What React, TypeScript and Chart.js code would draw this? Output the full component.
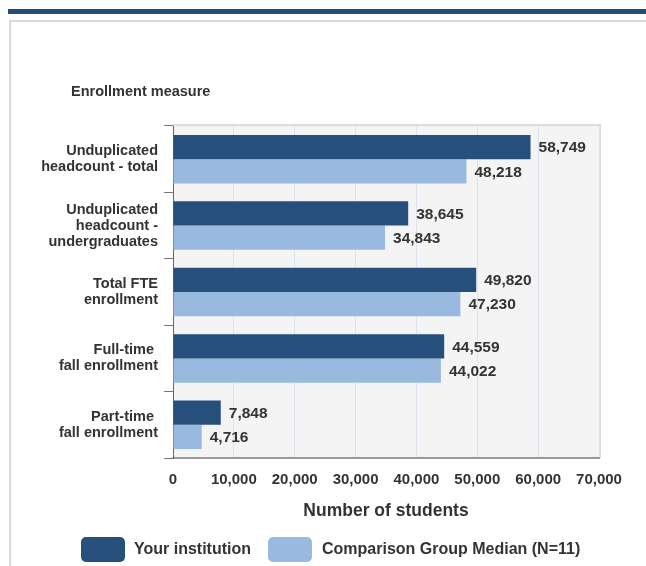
import React, { useEffect, useRef } from 'react';
import { Chart, registerables } from 'chart.js';

Chart.register(...registerables);

const categories: string[][] = [
  ['Unduplicated', 'headcount - total'],
  ['Unduplicated', 'headcount -', 'undergraduates'],
  ['Total FTE', 'enrollment'],
  ['Full-time ', 'fall enrollment'],
  ['Part-time ', 'fall enrollment'],
];
const institutionValues = [58749, 38645, 49820, 44559, 7848];
const comparisonValues = [48218, 34843, 47230, 44022, 4716];
const seriesNames = ['Your institution', 'Comparison Group Median (N=11)'];
const xTickValues = [0, 10000, 20000, 30000, 40000, 50000, 60000, 70000];
const chartTitle = 'Enrollment measure';
const xAxisTitle = 'Number of students';

const DARK = '#264f7c';
const LIGHT = '#99b9de';
const TEXT = '#333333';
const FONT = '"Liberation Sans", Arial, sans-serif';

const fmt = (v: number) => Number(v).toLocaleString('en-US');

const backgroundPlugin = {
  id: 'plotBackground',
  beforeDraw(chart: any) {
    const { ctx, chartArea: a } = chart;
    ctx.save();
    ctx.fillStyle = '#f4f4f4';
    ctx.fillRect(a.left, a.top, a.right - a.left, a.bottom - a.top);
    ctx.strokeStyle = '#dcdcdc';
    ctx.lineWidth = 2;
    ctx.beginPath();
    ctx.moveTo(a.left, a.top - 1);
    ctx.lineTo(a.right + 1, a.top - 1);
    ctx.lineTo(a.right + 1, a.bottom);
    ctx.stroke();
    ctx.fillStyle = TEXT;
    ctx.font = `bold 14.5px ${FONT}`;
    ctx.textAlign = 'left';
    ctx.textBaseline = 'middle';
    ctx.fillText(chartTitle, 71, 92);
    ctx.restore();
  },
};

const valueLabelPlugin = {
  id: 'valueLabels',
  afterDatasetsDraw(chart: any) {
    const { ctx } = chart;
    ctx.save();
    ctx.fillStyle = TEXT;
    ctx.font = `bold 15.5px ${FONT}`;
    ctx.textAlign = 'left';
    ctx.textBaseline = 'middle';
    chart.data.datasets.forEach((ds: any, i: number) => {
      const meta = chart.getDatasetMeta(i);
      meta.data.forEach((bar: any, j: number) => {
        ctx.fillText(fmt(ds.data[j]), bar.x + 8, bar.y + 1);
      });
    });
    ctx.restore();
  },
};

export default function App() {
  const canvasRef = useRef<HTMLCanvasElement | null>(null);

  useEffect(() => {
    if (!canvasRef.current) return;
    const chart = new Chart(canvasRef.current, {
      type: 'bar',
      data: {
        labels: categories,
        datasets: [
          {
            label: seriesNames[0],
            data: institutionValues,
            backgroundColor: DARK,
            categoryPercentage: 0.73,
            barPercentage: 1,
          },
          {
            label: seriesNames[1],
            data: comparisonValues,
            backgroundColor: LIGHT,
            categoryPercentage: 0.73,
            barPercentage: 1,
          },
        ],
      },
      options: {
        indexAxis: 'y',
        animation: false,
        responsive: false,
        maintainAspectRatio: false,
        layout: { padding: { top: 126, left: 0, right: 47, bottom: 38 } },
        plugins: {
          legend: { display: false },
          tooltip: { enabled: false },
          title: { display: false },
        },
        scales: {
          x: {
            type: 'linear',
            min: 0,
            max: 70000,
            afterBuildTicks: (scale: any) => {
              scale.ticks = xTickValues.map((v) => ({ value: v }));
            },
            afterFit: (scale: any) => {
              scale.height = 70;
            },
            grid: { color: '#dde3ee', lineWidth: 1, drawTicks: false },
            border: { display: true, color: '#9a9a9a', width: 2 },
            ticks: {
              color: TEXT,
              font: { family: FONT, size: 15, weight: 'bold' },
              padding: 13,
              maxRotation: 0,
              autoSkip: false,
              callback: (v: any) => fmt(v),
            },
            title: {
              display: true,
              text: xAxisTitle,
              color: TEXT,
              font: { family: FONT, size: 17.5, weight: 'bold' },
              padding: { top: 0, bottom: 6 },
            },
          },
          y: {
            type: 'category',
            afterFit: (scale: any) => {
              scale.width = 173;
            },
            grid: {
              drawOnChartArea: false,
              drawTicks: true,
              tickLength: 9,
              color: '#777777',
              offset: true,
            },
            border: { display: true, color: '#666666', width: 1 },
            ticks: {
              color: TEXT,
              font: { family: FONT, size: 14.5, weight: 'bold', lineHeight: 1.1 },
              padding: 6,
              autoSkip: false,
            },
          },
        },
      } as any,
      plugins: [backgroundPlugin, valueLabelPlugin],
    });
    return () => chart.destroy();
  }, []);

  const legendText: React.CSSProperties = {
    position: 'absolute',
    top: 539,
    height: 20,
    lineHeight: '20px',
    fontFamily: FONT,
    fontWeight: 'bold',
    fontSize: '16px',
    color: TEXT,
    whiteSpace: 'nowrap',
  };
  const box = (left: number, color: string): React.CSSProperties => ({
    position: 'absolute',
    left,
    top: 537,
    width: 44,
    height: 25,
    borderRadius: 5,
    background: color,
  });

  return (
    <div
      style={{
        position: 'fixed',
        left: 0,
        top: 0,
        width: 646,
        height: 566,
        overflow: 'hidden',
        background: '#ffffff',
      }}
    >
      <div style={{ position: 'absolute', left: 8, top: 9, width: 638, height: 5, background: '#264d7a' }} />
      <div
        style={{
          position: 'absolute',
          left: 9,
          top: 20,
          width: 660,
          height: 580,
          border: '2px solid #d9d9d9',
          boxSizing: 'border-box',
        }}
      />
      <canvas
        ref={canvasRef}
        width={646}
        height={566}
        style={{ position: 'absolute', left: 0, top: 0, width: 646, height: 566 }}
      />
      <div style={box(81, DARK)} />
      <div style={{ ...legendText, left: 134 }}>{seriesNames[0]}</div>
      <div style={box(268, LIGHT)} />
      <div style={{ ...legendText, left: 322 }}>{seriesNames[1]}</div>
    </div>
  );
}
